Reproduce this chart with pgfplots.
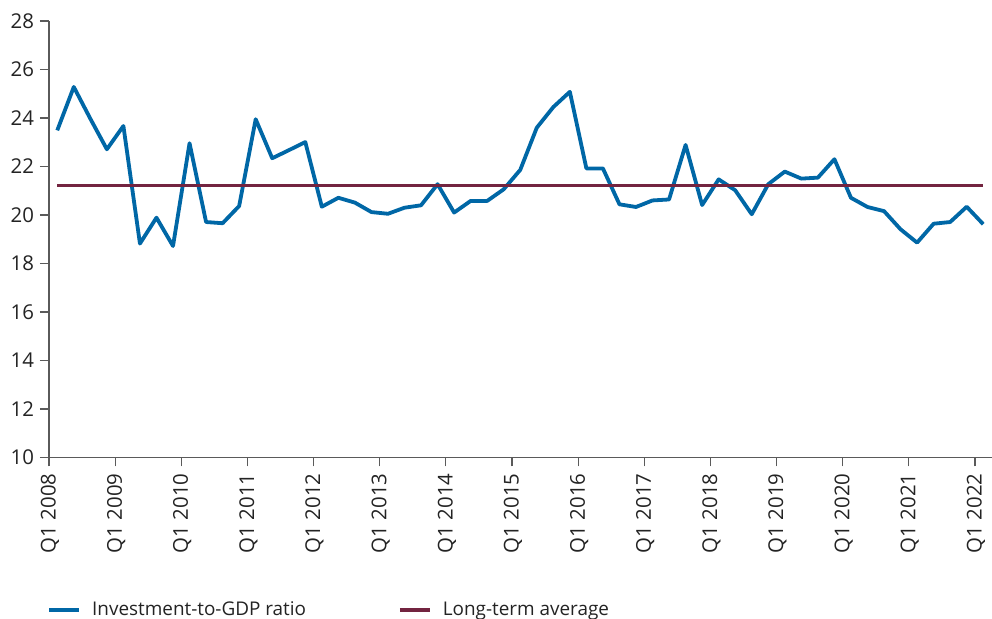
\documentclass[border=0pt]{standalone}
\usepackage{fontspec}
\setmainfont{Open Sans}
\usepackage{pgfplots}
\pgfplotsset{compat=1.18}
\definecolor{invblue}{RGB}{0,103,166}
\definecolor{avgred}{RGB}{115,36,64}
\definecolor{axgray}{RGB}{90,90,90}
\definecolor{txt}{RGB}{35,35,35}
\begin{document}
\begin{tikzpicture}
\begin{axis}[
  name=ax,
  scale only axis,
  width=471.25pt, height=218.25pt,
  xmin=-0.5, xmax=56.5,
  ymin=10, ymax=28,
  ytick={10,12,...,28},
  xtick={-0.5,3.5,...,55.5},
  xticklabels={Q1 2008,Q1 2009,Q1 2010,Q1 2011,Q1 2012,Q1 2013,Q1 2014,Q1 2015,Q1 2016,Q1 2017,Q1 2018,Q1 2019,Q1 2020,Q1 2021,Q1 2022},
  axis x line=bottom, axis y line=left,
  axis line style={-, axgray, line width=0.6pt},
  tick style={axgray, line width=0.6pt},
  tick align=outside,
  major tick length=4.5pt,
  /pgf/number format/assume math mode=true,
  ticklabel style={font=\fontsize{10.2}{12}\selectfont, text=txt},
  y tick label style={xshift=0.5pt},
  x tick label style={rotate=90, anchor=east, yshift=-0.5pt},
  legend columns=2,
  legend style={at={(0,0)}, anchor=north west, xshift=-4pt, yshift=-68pt, draw=none, fill=none,
    font=\fontsize{9.45}{11}\selectfont, text=txt,
    /tikz/every even column/.append style={column sep=44pt}},
  legend image code/.code={\draw[#1] (0pt,0pt) -- (15pt,0pt); \path (18.5pt,0pt);},
  legend cell align=left,
]
\addplot[invblue, line width=1.9pt, line join=round] coordinates {
(0,23.49) (1,25.28) (2,23.97) (3,22.71) (4,23.67) (5,18.82) (6,19.89) (7,18.72)
(8,22.96) (9,19.71) (10,19.66) (11,20.37) (12,23.95) (13,22.34) (14,22.67) (15,23.01)
(16,20.34) (17,20.71) (18,20.51) (19,20.12) (20,20.05) (21,20.30) (22,20.40) (23,21.27)
(24,20.10) (25,20.58) (26,20.58) (27,21.06) (28,21.86) (29,23.60) (30,24.45) (31,25.08)
(32,21.92) (33,21.92) (34,20.44) (35,20.33) (36,20.60) (37,20.64) (38,22.89) (39,20.41)
(40,21.47) (41,21.02) (42,20.03) (43,21.27) (44,21.79) (45,21.50) (46,21.54) (47,22.30)
(48,20.71) (49,20.33) (50,20.16) (51,19.41) (52,18.86) (53,19.64) (54,19.71) (55,20.34)
(56,19.62)};
\addlegendentry{Investment-to-GDP ratio}
\addplot[avgred, line width=1.9pt] coordinates {(0,21.22) (56,21.22)};
\addlegendentry{Long-term average}
\end{axis}
\pgfresetboundingbox
\path[use as bounding box] ([xshift=-24.5pt,yshift=10.5pt]ax.north west) rectangle ([xshift=0.25pt,yshift=-80.75pt]ax.south east);
\end{tikzpicture}
\end{document}
